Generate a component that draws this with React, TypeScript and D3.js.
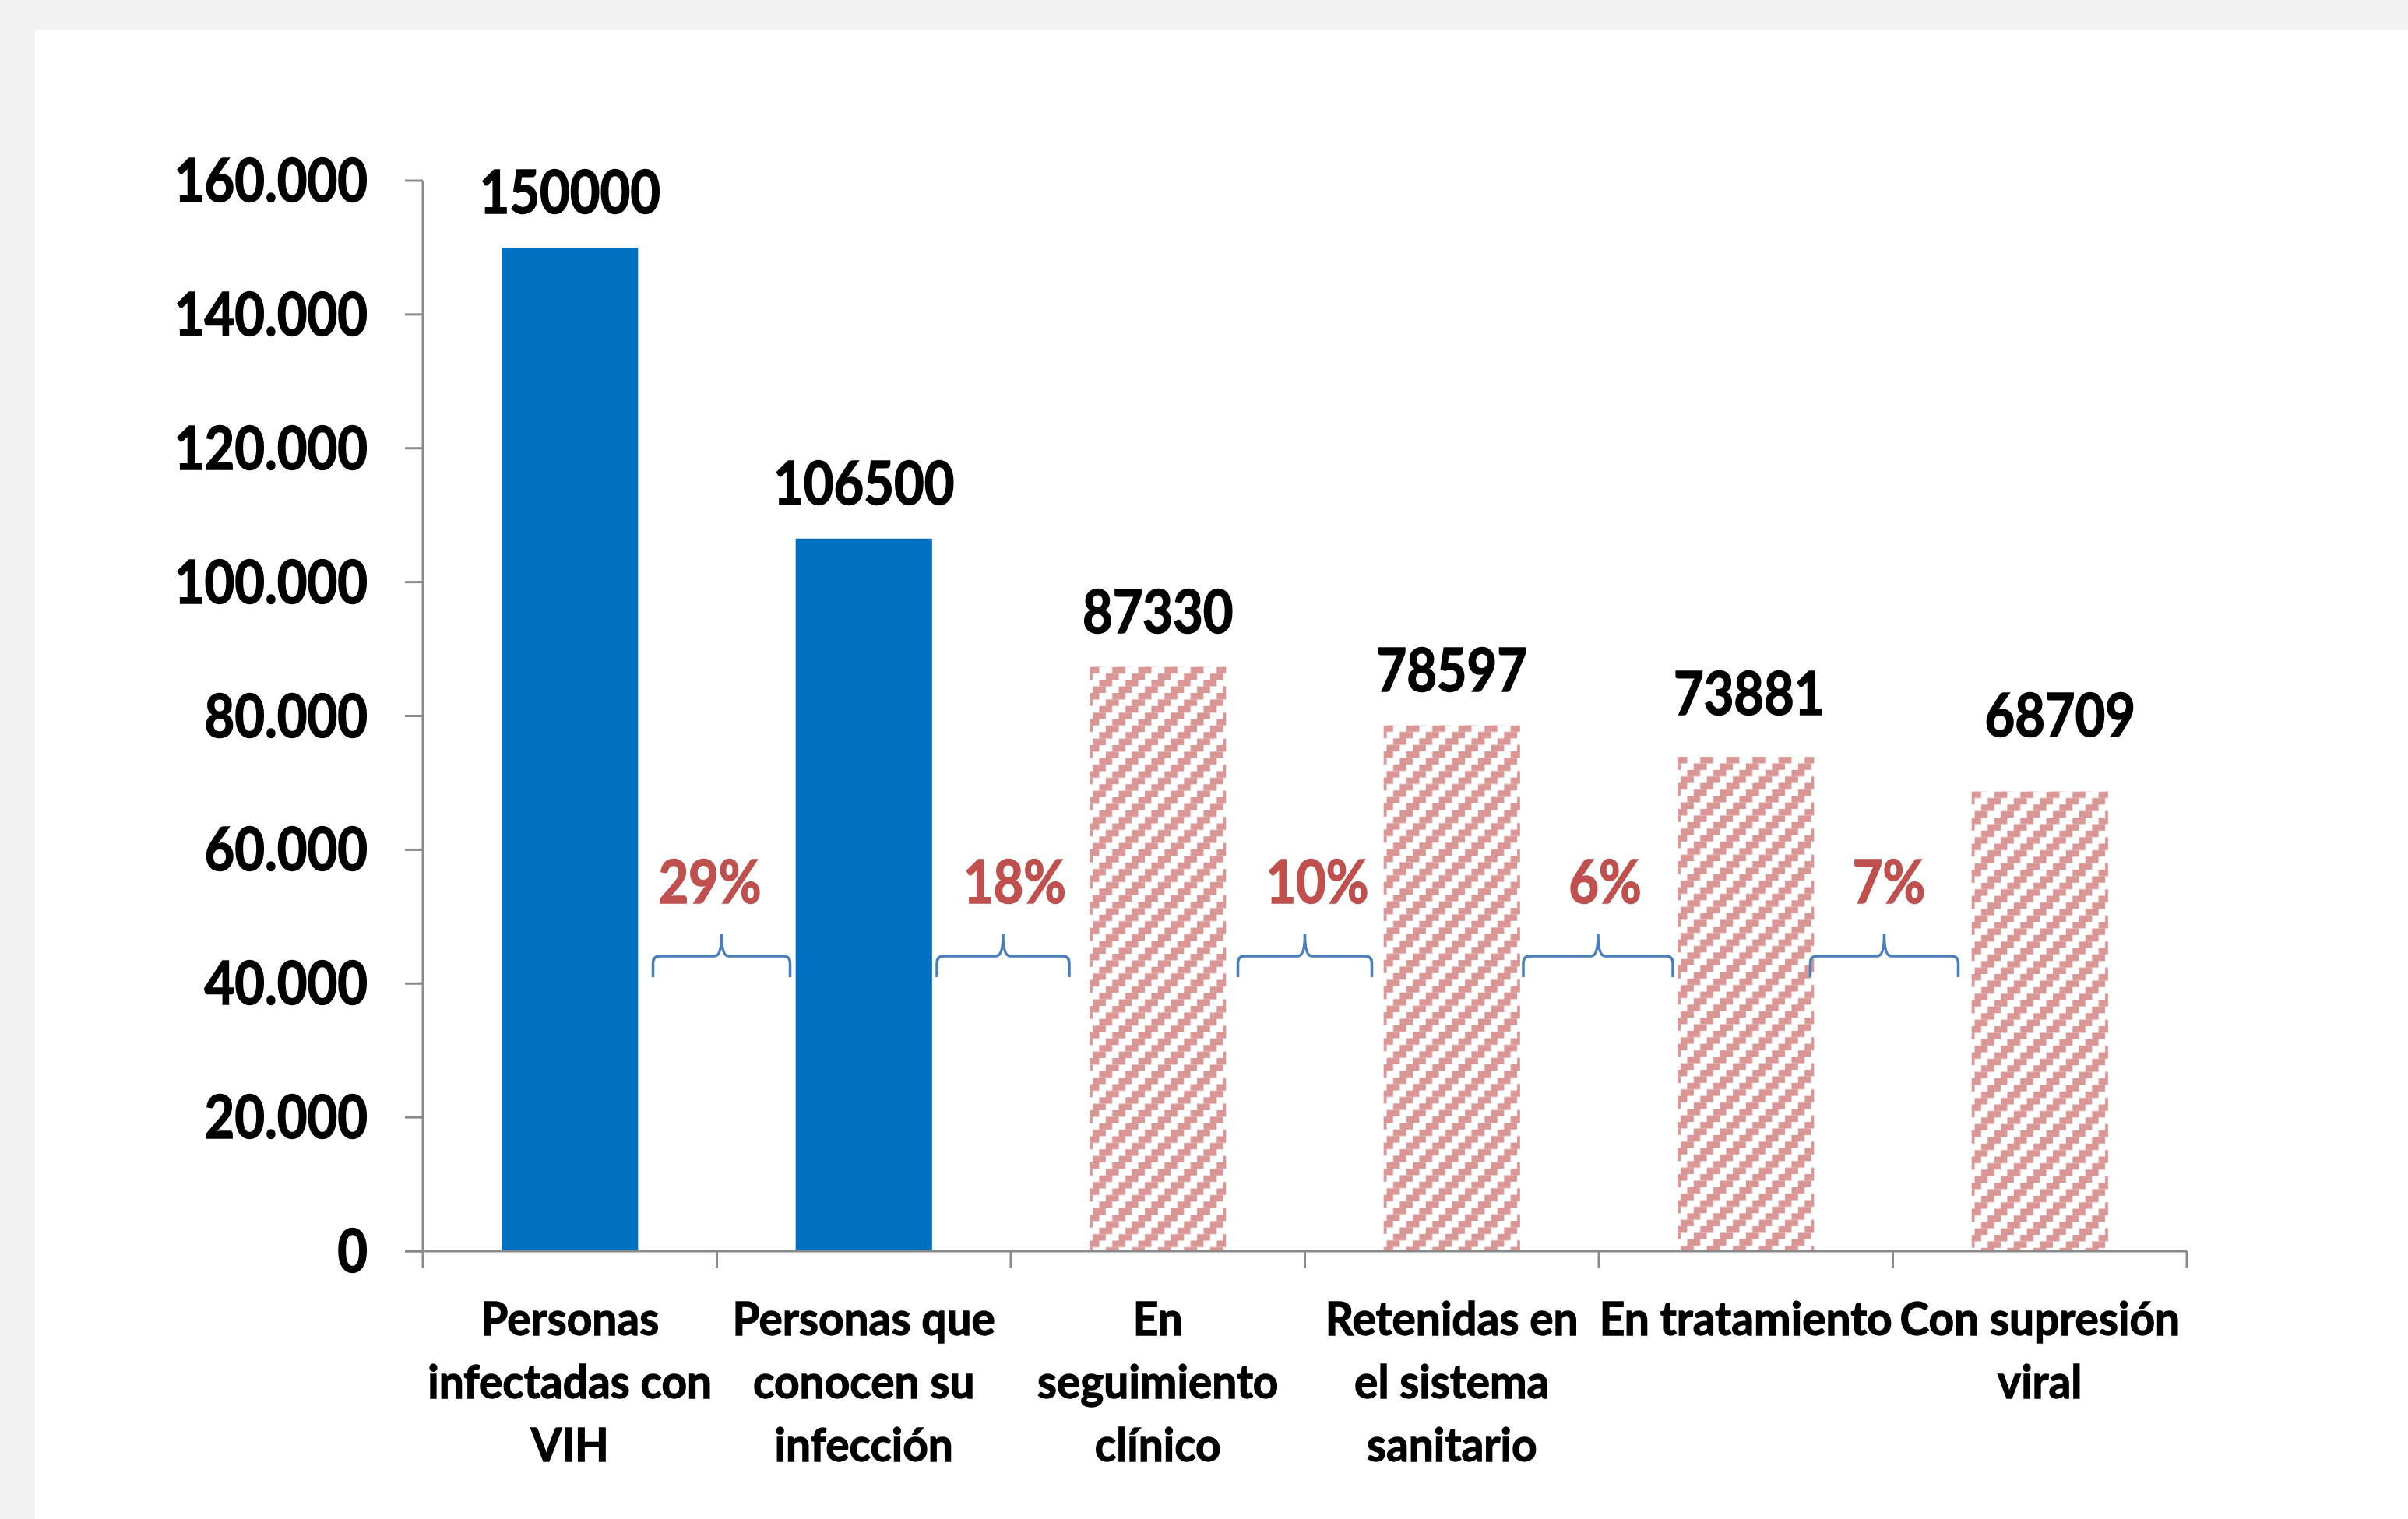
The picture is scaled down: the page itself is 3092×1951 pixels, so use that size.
import React from "react";
import * as d3 from "d3";

const categories: string[][] = [
  ["Personas", "infectadas con", "VIH"],
  ["Personas que", "conocen su", "infección"],
  ["En", "seguimiento", "clínico"],
  ["Retenidas en", "el sistema", "sanitario"],
  ["En tratamiento"],
  ["Con supresión", "viral"],
];
const values: number[] = [150000, 106500, 87330, 78597, 73881, 68709];
const hatched: boolean[] = [false, false, true, true, true, true];
const dropLabels: string[] = ["29%", "18%", "10%", "6%", "7%"];
const yTicks: number[] = [0, 20000, 40000, 60000, 80000, 100000, 120000, 140000, 160000];

// layout-only nudges (manual label / shape placement in the original)
const LABEL_NUDGE: [number, number][] = [[0, 0], [0, 0], [0, 0], [0, 0], [4, -10], [26, -27]];
const PCT_NUDGE: number[] = [-9, 5, 16, 8, -5];
const BRACE_NUDGE: [number, number][] = [[6, 88], [-10, 85], [0, 86], [-1, 96], [-11, 95]];

const W = 3092;
const H = 1951;
const X0 = 543;
const X1 = 2808;
const Y0 = 1607;
const Y1 = 232;
const FONT = "Lato, 'Open Sans', sans-serif";
const AXIS = "#898989";
const BLUE = "#0070c0";
const PINK = "#d99694";
const RED = "#c0504d";
const BRACE = "#4a7ebb";

const locale = d3.formatLocale({ decimal: ",", thousands: ".", grouping: [3], currency: ["", ""] });
const fmt = locale.format(",");

export default function App() {
  const keys = categories.map((_, i) => String(i));
  const xCat = d3.scaleBand<string>().domain(keys).range([X0, X1]).padding(0);
  const xBar = d3.scaleBand<string>().domain(keys).range([X0, X1]).paddingInner(0.536).paddingOuter(0.268);
  const y = d3.scaleLinear().domain([0, 160000]).range([Y0, Y1]);
  const bw = xBar.bandwidth();
  const step = xCat.step();
  const P = 33.5;
  const u = P / 4;
  const valF = 76.8;
  const valSx = 0.87;
  const catF = 58.6;
  const catSx = 0.97;

  const boundaries = d3.range(categories.length + 1).map((i) => X0 + i * step);

  return (
    <svg width={W} height={H} style={{ position: "absolute", left: 0, top: 0 }} xmlns="http://www.w3.org/2000/svg">
      <defs>
        {values.map((v, i) => {
          const bx = xBar(keys[i])!;
          const by = y(v);
          return (
            <pattern key={i} id={`hatch${i}`} x={bx} y={by} width={P} height={P} patternUnits="userSpaceOnUse">
              <rect x={0} y={0} width={P} height={P} fill="#fff" />
              {[0, 1, 2, 3].map((r) => {
                const off = (29 - r * u + 4 * P) % P;
                return (
                  <g key={r}>
                    <rect x={off} y={r * u} width={2 * u} height={u} fill={PINK} />
                    <rect x={off - P} y={r * u} width={2 * u} height={u} fill={PINK} />
                  </g>
                );
              })}
            </pattern>
          );
        })}
      </defs>
      <rect x={0} y={0} width={W} height={H} fill="#f2f2f2" />
      <rect x={45} y={38} width={W - 45} height={H - 38} fill="#ffffff" />

      {/* bars */}
      {values.map((v, i) => (
        <rect
          key={i}
          x={xBar(keys[i])}
          y={y(v)}
          width={bw}
          height={Y0 - y(v)}
          fill={hatched[i] ? `url(#hatch${i})` : BLUE}
        />
      ))}

      {/* y axis */}
      <line x1={X0} x2={X0} y1={Y1} y2={Y0} stroke={AXIS} strokeWidth={3} />
      {yTicks.map((t) => (
        <g key={t}>
          <line x1={X0 - 23} x2={X0} y1={y(t)} y2={y(t)} stroke={AXIS} strokeWidth={3} />
          <text
            transform={`translate(472,${y(t) + 27}) scale(${valSx},1)`}
            textAnchor="end"
            fontFamily={FONT}
            fontWeight="bold"
            fontSize={valF}
            fill="#000"
            stroke="#000"
            strokeWidth={1.6}
          >
            {fmt(t)}
          </text>
        </g>
      ))}

      {/* x axis */}
      <line x1={X0 - 23} x2={X1} y1={Y0} y2={Y0} stroke={AXIS} strokeWidth={3} />
      {boundaries.map((bx, i) => (
        <line key={i} x1={bx} x2={bx} y1={Y0} y2={Y0 + 21} stroke={AXIS} strokeWidth={3} />
      ))}

      {/* category labels */}
      {categories.map((lines, i) => {
        const cx = xCat(keys[i])! + step / 2;
        return (
          <g key={i}>
            {lines.map((ln, j) => (
              <text
                key={j}
                transform={`translate(${cx},${1715 + j * 81}) scale(${catSx},1)`}
                textAnchor="middle"
                fontFamily={FONT}
                fontWeight="bold"
                fontSize={catF}
                fill="#000"
                stroke="#000"
                strokeWidth={1.3}
              >
                {ln}
              </text>
            ))}
          </g>
        );
      })}

      {/* value labels */}
      {values.map((v, i) => (
        <text
          key={i}
          transform={`translate(${xBar(keys[i])! + bw / 2 + LABEL_NUDGE[i][0]},${y(v) - 44 + LABEL_NUDGE[i][1]}) scale(${valSx},1)`}
          textAnchor="middle"
          fontFamily={FONT}
          fontWeight="bold"
          fontSize={valF}
          fill="#000"
          stroke="#000"
          strokeWidth={1.6}
        >
          {v}
        </text>
      ))}

      {/* drop-off braces and percentages */}
      {dropLabels.map((lab, i) => {
        const cx = boundaries[i + 1] + BRACE_NUDGE[i][0];
        const h = BRACE_NUDGE[i][1];
        const yb = 1255;
        const yl = 1228;
        const yp = 1200;
        const r = 9;
        const d = `M${cx - h},${yb} L${cx - h},${yl + r} Q${cx - h},${yl} ${cx - h + r},${yl} L${cx - r},${yl} Q${cx},${yl} ${cx},${yp} Q${cx},${yl} ${cx + r},${yl} L${cx + h - r},${yl} Q${cx + h},${yl} ${cx + h},${yl + r} L${cx + h},${yb}`;
        return (
          <g key={i}>
            <path d={d} fill="none" stroke={BRACE} strokeWidth={3.5} />
            <text
              transform={`translate(${boundaries[i + 1] + PCT_NUDGE[i]},1160) scale(${valSx},1)`}
              textAnchor="middle"
              fontFamily={FONT}
              fontWeight="bold"
              fontSize={valF}
              fill={RED}
              stroke={RED}
              strokeWidth={1.6}
            >
              {lab}
            </text>
          </g>
        );
      })}
    </svg>
  );
}
